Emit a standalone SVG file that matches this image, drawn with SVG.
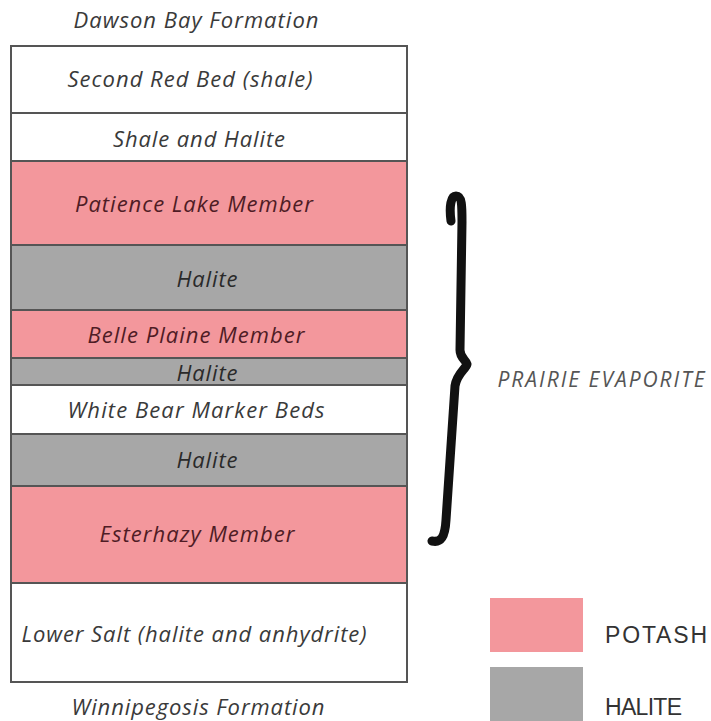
<svg xmlns="http://www.w3.org/2000/svg" width="711" height="721" viewBox="0 0 711 721">
<style>
.lbl{font-family:"Open Sans",Lato,"Liberation Sans",sans-serif;font-style:italic;font-size:22px;text-anchor:middle}
.w rect{fill:#ffffff}
.p rect{fill:#f3979c}
.g rect{fill:#a7a7a7}
.lay rect{stroke:#555555;stroke-width:2}
.w text{fill:#3a3a3a}
.p text{fill:#4f1c25}
.g text{fill:#2a2a2a}
.cap{font-family:"Open Sans",Lato,"Liberation Sans",sans-serif;font-style:italic;font-size:22px;fill:#3a3a3a;text-anchor:middle}
.leg{font-family:"Liberation Sans",Arial,sans-serif;font-size:23px;fill:#333333}
</style>
<rect width="711" height="721" fill="#ffffff"/>
<text class="cap" x="196" y="28" textLength="245">Dawson Bay Formation</text>
<g class="lay">
<g id="second-red-bed" class="w"><rect x="11" y="46" width="396" height="67"/><text class="lbl" x="190" y="87" textLength="245">Second Red Bed (shale)</text></g>
<g id="shale-halite" class="w"><rect x="11" y="113" width="396" height="48"/><text class="lbl" x="199" y="147" textLength="172">Shale and Halite</text></g>
<g id="patience-lake" class="p"><rect x="11" y="161" width="396" height="84"/><text class="lbl" x="194" y="212" textLength="238">Patience Lake Member</text></g>
<g id="halite-1" class="g"><rect x="11" y="245" width="396" height="65"/><text class="lbl" x="207" y="287" textLength="61">Halite</text></g>
<g id="belle-plaine" class="p"><rect x="11" y="310" width="396" height="48"/><text class="lbl" x="196" y="343" textLength="217">Belle Plaine Member</text></g>
<g id="halite-2" class="g"><rect x="11" y="358" width="396" height="27"/><text class="lbl" x="207" y="381" textLength="61">Halite</text></g>
<g id="white-bear" class="w"><rect x="11" y="385" width="396" height="49"/><text class="lbl" x="196" y="418" textLength="257">White Bear Marker Beds</text></g>
<g id="halite-3" class="g"><rect x="11" y="434" width="396" height="52"/><text class="lbl" x="207" y="468" textLength="61">Halite</text></g>
<g id="esterhazy" class="p"><rect x="11" y="486" width="396" height="97"/><text class="lbl" x="197" y="542" textLength="195">Esterhazy Member</text></g>
<g id="lower-salt" class="w"><rect x="11" y="583" width="396" height="99"/><text class="lbl" x="194" y="642" textLength="345">Lower Salt (halite and anhydrite)</text></g>
</g>
<text class="cap" x="198" y="715" textLength="253">Winnipegosis Formation</text>
<g id="connectors">
<path d="M 451 221 C 449 206 451 196 456 196 C 462 196 462 206 462 222 L 460 350 C 460 358 466 360 467 364 C 466 369 457 373 455 386 L 446 520 C 445 537 441 543 432 541" fill="none" stroke="#111111" stroke-width="9" stroke-linecap="round" stroke-linejoin="round"/>
</g>
<g id="prairie-evaporite"><text x="601" y="387" textLength="207" style="font-family:'Open Sans',Lato,'Liberation Sans',sans-serif;font-style:italic;font-size:21px;fill:#555555;text-anchor:middle">PRAIRIE EVAPORITE</text></g>
<g id="legend-potash"><rect x="490" y="598" width="93" height="54" fill="#f3979c"/><text class="leg" x="605" y="643" textLength="102">POTASH</text></g>
<g id="legend-halite"><rect x="490" y="667" width="93" height="60" fill="#a7a7a7"/><text class="leg" x="605" y="715" textLength="77">HALITE</text></g>
</svg>
